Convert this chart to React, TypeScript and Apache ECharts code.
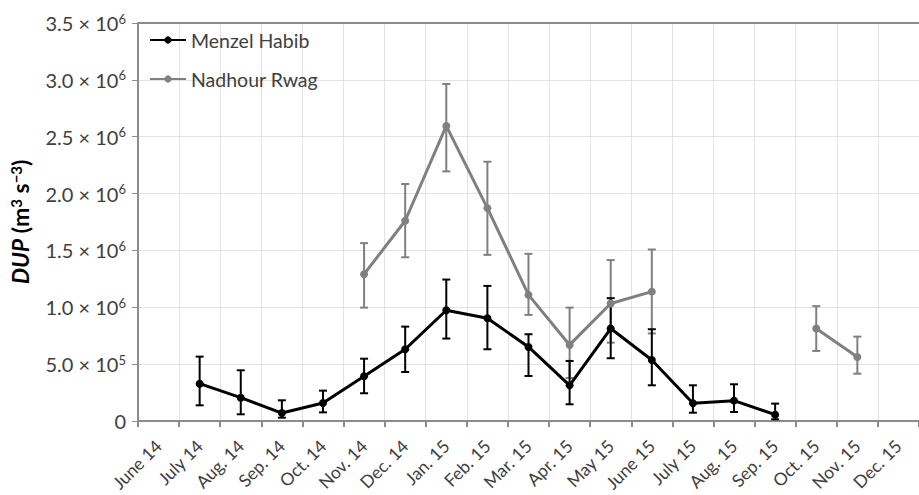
import React, { useEffect, useRef } from "react";
import * as echarts from "echarts";

const categories = [
  "June 14", "July 14", "Aug. 14", "Sep. 14", "Oct. 14", "Nov. 14", "Dec. 14",
  "Jan. 15", "Feb. 15", "Mar. 15", "Apr. 15", "May 15", "June 15", "July 15",
  "Aug. 15", "Sep. 15", "Oct. 15", "Nov. 15", "Dec. 15",
];

const menzelHabib = [null, 328000, 205000, 70000, 158000, 393000, 631000, 974000, 904000, 651000, 314000, 813000, 537000, 156000, 179000, 56000, null, null, null];
const menzelLow = [null, 138000, 59000, 29000, 76000, 244000, 431000, 725000, 631000, 396000, 147000, 552000, 314000, 73000, 79000, 15000, null, null, null];
const menzelHigh = [null, 566000, 446000, 182000, 267000, 548000, 830000, 1244000, 1188000, 763000, 528000, 1080000, 807000, 314000, 323000, 153000, null, null, null];

const nadhourRwag = [null, null, null, null, null, 1291000, 1761000, 2595000, 1872000, 1109000, 669000, 1033000, 1138000, null, null, null, 813000, 563000, null];
const nadhourLow = [null, null, null, null, null, 997000, 1440000, 2195000, 1461000, 933000, 378000, 689000, 770000, null, null, null, 616000, 416000, null];
const nadhourHigh = [null, null, null, null, null, 1564000, 2084000, 2964000, 2280000, 1470000, 997000, 1415000, 1508000, null, null, null, 1010000, 742000, null];

const FONT = "Lato";
const TEXT_COLOR = "#404040";
const AXIS_COLOR = "#8c8c8c";
const GRID_COLOR = "#e3e3e3";

function errorRows(low: (number | null)[], high: (number | null)[]) {
  const rows: number[][] = [];
  low.forEach((l, i) => {
    const h = high[i];
    if (l != null && h != null) rows.push([i, l, h]);
  });
  return rows;
}

function errorSeries(name: string, low: (number | null)[], high: (number | null)[], color: string) {
  return {
    type: "custom",
    name: name + " err",
    data: errorRows(low, high),
    encode: { x: 0, y: [1, 2] },
    z: 3,
    silent: true,
    renderItem: (params: any, api: any) => {
      const idx = api.value(0);
      const lo = api.coord([idx, api.value(1)]);
      const hi = api.coord([idx, api.value(2)]);
      const half = 4;
      const style = { stroke: color, lineWidth: 2 };
      return {
        type: "group",
        children: [
          { type: "line", shape: { x1: lo[0], y1: lo[1], x2: hi[0], y2: hi[1] }, style },
          { type: "line", shape: { x1: hi[0] - half, y1: hi[1], x2: hi[0] + half, y2: hi[1] }, style },
          { type: "line", shape: { x1: lo[0] - half, y1: lo[1], x2: lo[0] + half, y2: lo[1] }, style },
        ],
      };
    },
  };
}

function sciLabel(v: number) {
  if (v === 0) return "{a|0}";
  const exp = Math.floor(Math.log10(v) + 1e-9);
  const mant = v / Math.pow(10, exp);
  return `{a|${mant.toFixed(1)} × 10}{s|${exp}}`;
}

export default function App() {
  const ref = useRef<HTMLDivElement>(null);

  useEffect(() => {
    if (!ref.current) return;
    const chart = echarts.init(ref.current, undefined, { renderer: "svg" });
    chart.setOption({
      animation: false,
      backgroundColor: "#ffffff",
      textStyle: { fontFamily: FONT },
      grid: { left: 133, top: 23, right: -12, bottom: 74 },
      legend: {
        orient: "vertical",
        left: 149,
        top: 30,
        padding: 0,
        itemWidth: 36,
        itemHeight: 9,
        itemGap: 19,
        data: ["Menzel Habib", "Nadhour Rwag"],
        textStyle: { fontFamily: FONT, fontSize: 19.5, color: TEXT_COLOR },
      },
      xAxis: [
        {
          type: "category",
          data: categories,
          boundaryGap: true,
          axisLine: { show: true, lineStyle: { color: AXIS_COLOR, width: 2 } },
          axisTick: { show: true, length: 6, lineStyle: { color: AXIS_COLOR, width: 2 } },
          splitLine: { show: true, lineStyle: { color: GRID_COLOR, width: 1 } },
          axisLabel: {
            rotate: 45,
            interval: 0,
            margin: 22,
            fontFamily: FONT,
            fontSize: 17.5,
            color: TEXT_COLOR,
          },
        },
        {
          type: "category",
          data: categories,
          position: "top",
          boundaryGap: true,
          axisLine: { show: true, lineStyle: { color: AXIS_COLOR, width: 2 } },
          axisTick: { show: false },
          axisLabel: { show: false },
          splitLine: { show: false },
        },
      ],
      yAxis: {
        type: "value",
        min: 0,
        max: 3500000,
        interval: 500000,
        name: "{i|DUP}{b| (m}{s|3}{b| s}{s|−3}{b|)}",
        nameLocation: "middle",
        nameRotate: 90,
        nameGap: 107,
        nameTextStyle: {
          rich: {
            i: { fontFamily: FONT, fontSize: 23, fontWeight: "bold", fontStyle: "italic", color: "#000" },
            b: { fontFamily: FONT, fontSize: 23, fontWeight: "bold", color: "#000" },
            s: { fontFamily: FONT, fontSize: 15, fontWeight: "bold", color: "#000", verticalAlign: "top" },
          },
        },
        axisLine: { show: true, lineStyle: { color: AXIS_COLOR, width: 2 } },
        axisTick: { show: true, length: 6, lineStyle: { color: AXIS_COLOR, width: 1 } },
        splitLine: { show: true, lineStyle: { color: GRID_COLOR, width: 1 } },
        axisLabel: {
          margin: 12,
          formatter: (v: number) => sciLabel(v),
          rich: {
            a: { fontFamily: FONT, fontSize: 20, color: TEXT_COLOR, lineHeight: 22 },
            s: { fontFamily: FONT, fontSize: 13, color: TEXT_COLOR, verticalAlign: "top", lineHeight: 13 },
          },
        },
      },
      series: [
        errorSeries("Nadhour Rwag", nadhourLow, nadhourHigh, "#808080"),
        errorSeries("Menzel Habib", menzelLow, menzelHigh, "#000000"),
        {
          type: "line",
          name: "Nadhour Rwag",
          data: nadhourRwag,
          connectNulls: false,
          symbol: "circle",
          symbolSize: 8,
          z: 4,
          itemStyle: { color: "#808080" },
          lineStyle: { color: "#808080", width: 3 },
        },
        {
          type: "line",
          name: "Menzel Habib",
          data: menzelHabib,
          connectNulls: false,
          symbol: "circle",
          symbolSize: 8,
          z: 5,
          itemStyle: { color: "#000000" },
          lineStyle: { color: "#000000", width: 3 },
        },
      ],
    });
    return () => chart.dispose();
  }, []);

  return (
    <div
      ref={ref}
      style={{ position: "absolute", left: 0, top: 0, width: 919, height: 495 }}
    />
  );
}
